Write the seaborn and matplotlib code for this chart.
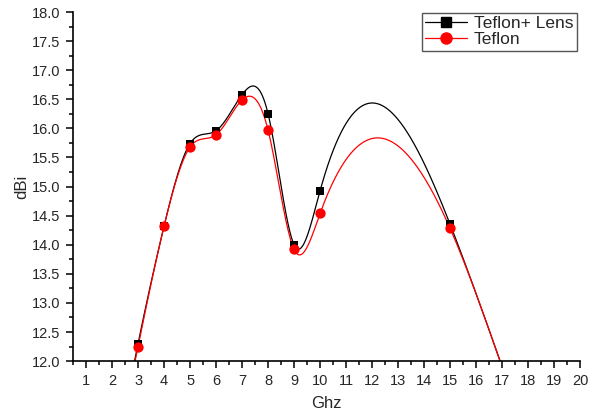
import numpy as np
import pandas as pd
import matplotlib
matplotlib.use("Agg")
import matplotlib.pyplot as plt
from matplotlib.ticker import MultipleLocator, FormatStrFormatter
from matplotlib.lines import Line2D
import seaborn as sns

# ---- data ----
freq = [2, 3, 4, 5, 6, 7, 8, 9, 10, 15, 17]
teflon_lens = [10.0, 12.30, 14.32, 15.74, 15.96, 16.58, 16.25, 14.00, 14.93, 14.35, 11.90]
teflon = [10.0, 12.25, 14.32, 15.68, 15.89, 16.49, 15.97, 13.92, 14.54, 14.28, 11.90]
series_names = ["Teflon+ Lens", "Teflon"]
x_ticks = list(range(1, 21))
y_ticks = [12.0 + 0.5 * i for i in range(13)]


def natural_spline(x, y, n=600):
    x = np.asarray(x, float)
    y = np.asarray(y, float)
    m = len(x)
    h = np.diff(x)
    A = np.zeros((m, m))
    b = np.zeros(m)
    A[0, 0] = 1
    A[-1, -1] = 1
    for i in range(1, m - 1):
        A[i, i - 1] = h[i - 1]
        A[i, i] = 2 * (h[i - 1] + h[i])
        A[i, i + 1] = h[i]
        b[i] = 6 * ((y[i + 1] - y[i]) / h[i] - (y[i] - y[i - 1]) / h[i - 1])
    M = np.linalg.solve(A, b)
    xs = np.linspace(x[0], x[-1], n)
    idx = np.clip(np.searchsorted(x, xs) - 1, 0, m - 2)
    x0, x1 = x[idx], x[idx + 1]
    hh = x1 - x0
    ys = (M[idx] * (x1 - xs) ** 3 / (6 * hh) + M[idx + 1] * (xs - x0) ** 3 / (6 * hh)
          + (y[idx] / hh - M[idx] * hh / 6) * (x1 - xs)
          + (y[idx + 1] / hh - M[idx + 1] * hh / 6) * (xs - x0))
    return xs, ys


sns.set_style("ticks")
plt.rcParams["font.family"] = ["Liberation Sans", "DejaVu Sans"]

fig = plt.figure(figsize=(5.89, 4.16), dpi=100)
ax = fig.add_axes([0.124, 0.132, 0.861, 0.839])

colors = ["black", "#ff0000"]
markers = ["s", "o"]
msizes = [32, 55]
curves = []
points = []
for name, vals in zip(series_names, [teflon_lens, teflon]):
    xs, ys = natural_spline(freq, vals)
    curves.append(pd.DataFrame({"x": xs, "y": ys, "series": name}))
    points.append(pd.DataFrame({"x": freq, "y": vals, "series": name}))
curve_df = pd.concat(curves, ignore_index=True)
point_df = pd.concat(points, ignore_index=True)
point_df = point_df[point_df["y"] >= 12.0]

palette = dict(zip(series_names, colors))
sns.lineplot(data=curve_df, x="x", y="y", hue="series", palette=palette,
             linewidth=0.9, legend=False, ax=ax, sort=False, estimator=None)
for name, mk, ms in zip(series_names, markers, msizes):
    sub = point_df[point_df["series"] == name]
    sns.scatterplot(data=sub, x="x", y="y", color=palette[name], marker=mk,
                    s=ms, edgecolor=palette[name], linewidth=0, legend=False,
                    ax=ax, zorder=3)

ax.set_xlim(0.5, 20)
ax.set_ylim(12.0, 18.0)
ax.set_xticks(x_ticks)
ax.set_yticks(y_ticks)
ax.xaxis.set_minor_locator(MultipleLocator(0.5))
ax.yaxis.set_minor_locator(MultipleLocator(0.25))
ax.yaxis.set_major_formatter(FormatStrFormatter("%.1f"))
ax.tick_params(axis="both", which="major", direction="out", length=5, width=1.1,
               labelsize=10.5, color="black", pad=4)
ax.tick_params(axis="both", which="minor", direction="out", length=3, width=1.1,
               color="black")
for s in ["top", "right"]:
    ax.spines[s].set_visible(False)
for s in ["left", "bottom"]:
    ax.spines[s].set_linewidth(1.2)
    ax.spines[s].set_color("black")

ax.set_xlabel("Ghz", fontsize=12, labelpad=6)
ax.set_ylabel("dBi", fontsize=12, labelpad=2)

handles = [Line2D([0], [0], color=c, marker=m, markersize=ms, linewidth=0.9)
           for c, m, ms in zip(colors, markers, [6.5, 8])]
leg = ax.legend(handles, series_names, loc="upper right", bbox_to_anchor=(0.997, 1.003),
                fontsize=12.5, frameon=True, fancybox=False, framealpha=1,
                edgecolor="#555555", handlelength=2.4, handletextpad=0.4,
                borderpad=0.2, labelspacing=0.05, borderaxespad=0.1)
leg.get_frame().set_linewidth(1.0)

fig.savefig("out.png", dpi=100)
